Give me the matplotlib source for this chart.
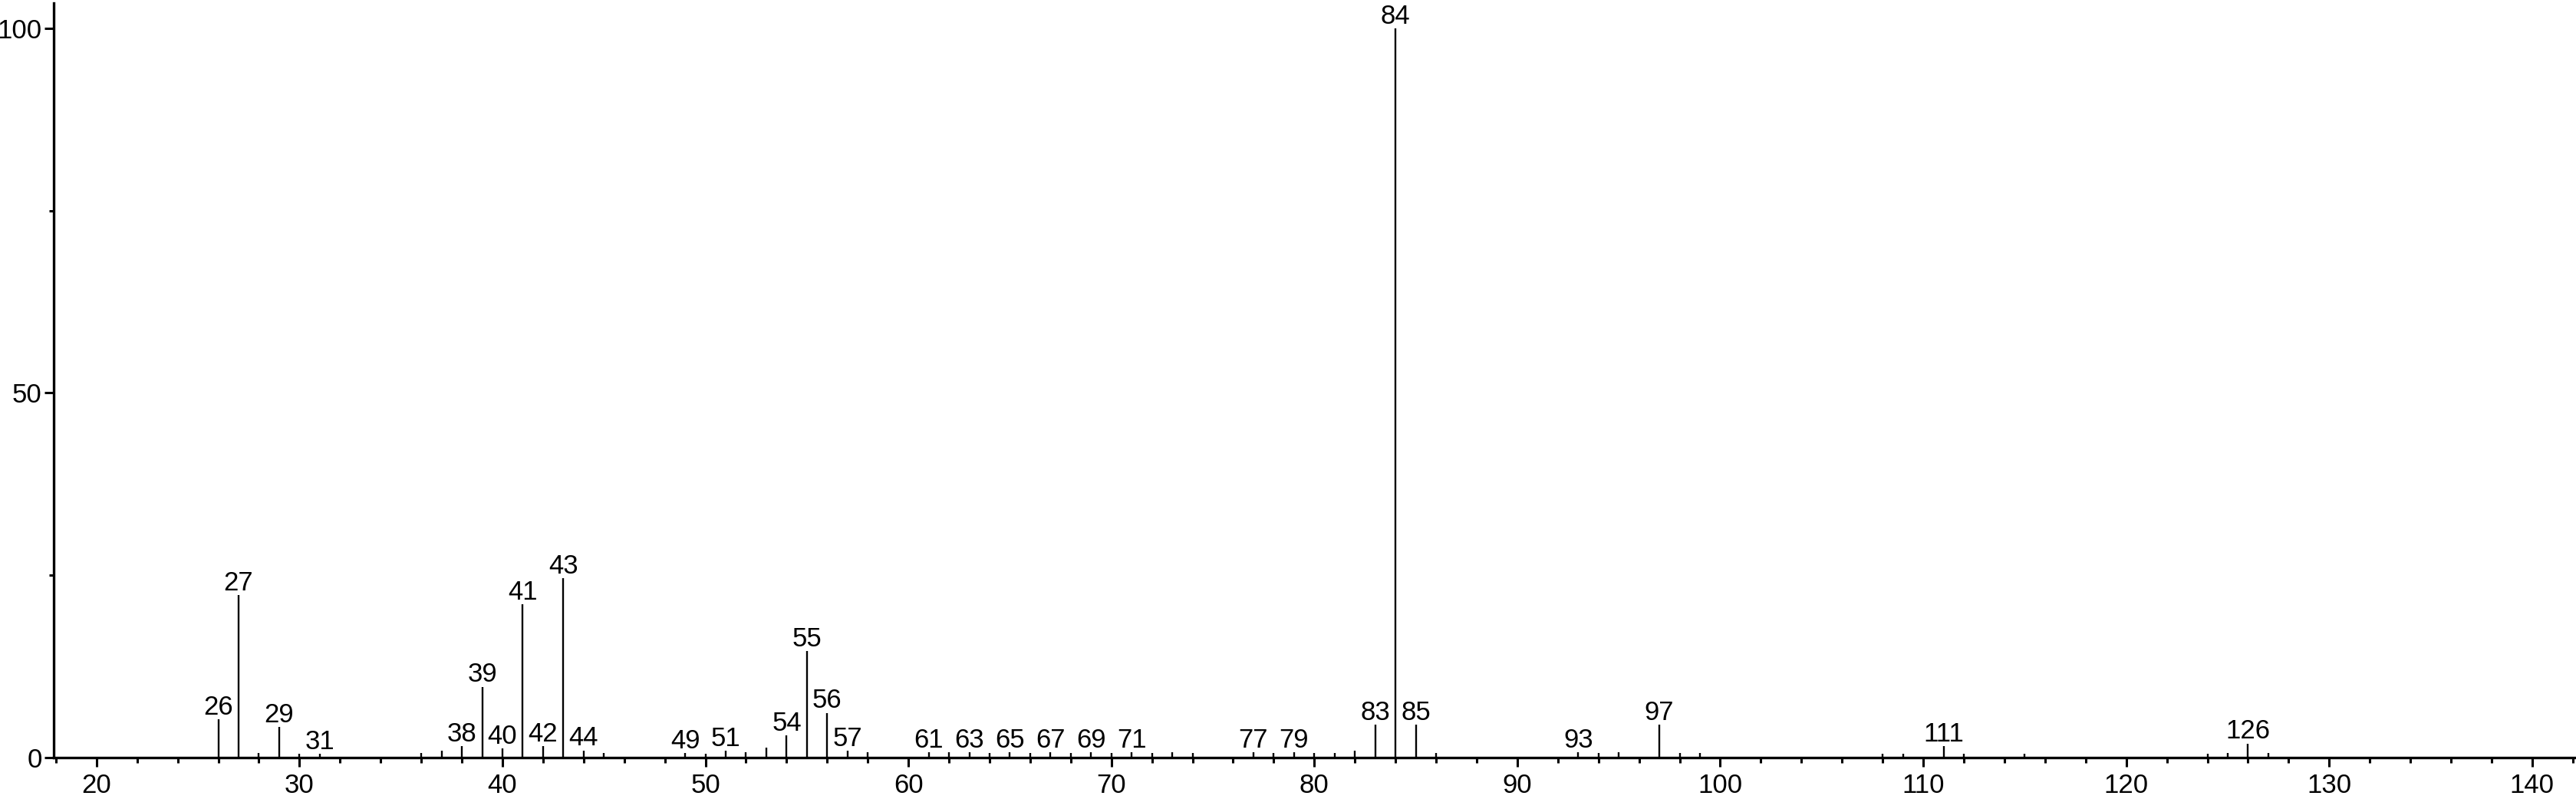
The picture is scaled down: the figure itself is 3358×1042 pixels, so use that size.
# -*- coding: utf-8 -*-
# Mass spectrum, stick plot with m/z labels on the main peaks

import numpy as np
import matplotlib
matplotlib.use('Agg')
import matplotlib.pyplot as plt
from matplotlib.ticker import MultipleLocator

# m/z values and relative intensities
mz_values = [26, 27, 28, 29, 30, 31, 36, 37, 38, 39, 40, 41, 42, 43, 44, 45,
             49, 50, 51, 52, 53, 54, 55, 56, 57, 58,
             61, 62, 63, 64, 65, 66, 67, 68, 69, 70, 71, 72, 73, 74,
             77, 78, 79, 80, 81, 82, 83, 84, 85, 86,
             93, 94, 95, 97, 98, 99,
             108, 109, 111, 112, 115, 124, 125, 126, 127]
intensity   = [5.2, 22.3, 0.6, 4.2, 0.5, 0.5, 0.6, 0.95, 1.55, 9.7, 1.25, 21.0, 1.55, 24.6, 0.95, 0.6,
               0.55, 0.5, 0.9, 0.7, 1.3, 3.0, 14.6, 6.1, 0.9, 0.7,
               0.7, 0.7, 0.7, 0.6, 0.7, 0.6, 0.7, 0.6, 0.7, 0.6, 0.7, 0.6, 0.7, 0.6,
               0.7, 0.6, 0.7, 0.6, 0.6, 0.95, 4.45, 100.0, 4.45, 0.6,
               0.7, 0.6, 0.7, 4.45, 0.6, 0.6,
               0.5, 0.5, 1.55, 0.5, 0.5, 0.5, 0.6, 1.9, 0.6]

# peaks that carry a m/z label
labeled_mz = [26, 27, 29, 31, 38, 39, 40, 41, 42, 43, 44, 49, 51, 54, 55, 56, 57,
              61, 63, 65, 67, 69, 71, 77, 79, 83, 84, 85, 93, 97, 111, 126]

x_major = [20, 30, 40, 50, 60, 70, 80, 90, 100, 110, 120, 130, 140]
y_major = [0, 50, 100]

plt.rcParams['font.family'] = ['Liberation Sans', 'DejaVu Sans']

label_size = 25
line_w     = 2.4

fig1 = plt.figure(figsize=(33.58, 10.42), dpi=100)
ax1  = fig1.add_axes([69.7/3358., 54.3/1042., 1.0 - 69.7/3358., (1038.0 - 54.3)/1042.])

ax1.vlines(mz_values, 0, intensity, colors='k', linewidth=1.7, zorder=2)

peak_dict = dict(zip(mz_values, intensity))
for mz in labeled_mz:
    ax1.annotate(str(mz), xy=(mz, peak_dict[mz]), xytext=(0, 4.5),
                 textcoords='offset points', ha='center', va='baseline',
                 fontsize=label_size, color='k')

ax1.set_xlim(17.88, 142.16)
ax1.set_ylim(0, 103.5)

ax1.spines['top'].set_visible(False)
ax1.spines['right'].set_visible(False)
ax1.spines['left'].set_linewidth(line_w)
ax1.spines['bottom'].set_linewidth(line_w)
ax1.spines['bottom'].set_zorder(3)

ax1.set_xticks(x_major)
ax1.xaxis.set_minor_locator(MultipleLocator(2))
ax1.set_yticks(y_major)
ax1.yaxis.set_minor_locator(MultipleLocator(25))

ax1.tick_params(axis='x', which='major', length=8.9, width=2.2, labelsize=label_size, pad=6)
ax1.tick_params(axis='x', which='minor', length=4.8, width=2.2)
ax1.tick_params(axis='y', which='major', length=8.9, width=2.2, labelsize=label_size, pad=2)
ax1.tick_params(axis='y', which='minor', length=4.2, width=2.2)

plt.savefig('out.png', format='png', dpi=100)
